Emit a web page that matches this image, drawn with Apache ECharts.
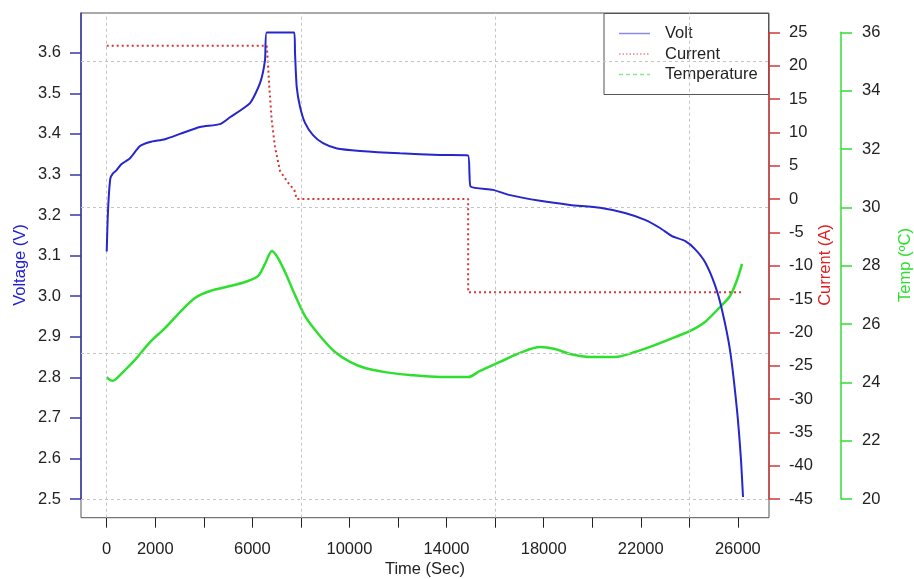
<!DOCTYPE html>
<html><head><meta charset="utf-8">
<script src="https://cdn.jsdelivr.net/npm/echarts@6/dist/echarts.min.js"></script>
<style>html,body{margin:0;padding:0;background:#fff}#c{width:914px;height:579px}</style>
</head><body><div id="c"></div>
<script>
// ---- data (time in seconds) ----
const voltTime  = [0, 40, 90, 150, 250, 400, 600, 960, 1372, 1784, 2400, 3020, 3843, 4667, 5079, 5903, 6315, 6521, 6591, 7728, 7757, 7827, 7963, 8169, 8499, 8910, 9487, 10434, 12082, 13730, 14884, 14945, 14995, 15913, 16614, 17850, 19086, 20321, 21351, 22175, 22793, 23287, 23822, 24234, 24646, 25058, 25347, 25677, 25965, 26130, 26212];
const voltValue = [3.11, 3.19, 3.25, 3.29, 3.302, 3.31, 3.325, 3.34, 3.37, 3.38, 3.387, 3.40, 3.417, 3.424, 3.441, 3.476, 3.525, 3.582, 3.65, 3.65, 3.60, 3.516, 3.467, 3.427, 3.397, 3.377, 3.364, 3.358, 3.352, 3.348, 3.347, 3.30, 3.27, 3.262, 3.249, 3.235, 3.225, 3.218, 3.205, 3.188, 3.168, 3.148, 3.136, 3.116, 3.084, 3.027, 2.966, 2.867, 2.719, 2.596, 2.505];

const currTime  = [0, 6590, 6616, 6698, 6797, 6933, 7139, 7481, 7728, 7827, 14890, 14890, 26212];
const currValue = [23, 23, 21.9, 16.8, 11.8, 7.8, 4.2, 2.4, 1.35, 0, 0, -14, -14];

const tempTime  = [0, 136, 260, 465, 754, 1166, 1784, 2400, 3020, 3637, 4255, 5079, 5697, 6232, 6521, 6809, 7057, 7346, 7758, 8169, 8787, 9405, 10023, 10641, 11465, 12494, 13730, 14884, 15379, 16203, 17029, 17853, 18471, 19089, 19913, 20942, 21766, 22590, 23414, 24032, 24646, 25264, 25677, 25965, 26171];
const tempValue = [24.18, 24.08, 24.05, 24.18, 24.42, 24.77, 25.38, 25.86, 26.41, 26.89, 27.13, 27.30, 27.44, 27.64, 28.06, 28.50, 28.26, 27.78, 26.99, 26.27, 25.59, 25.04, 24.70, 24.49, 24.35, 24.25, 24.18, 24.18, 24.39, 24.70, 25.01, 25.21, 25.14, 24.97, 24.87, 24.87, 25.04, 25.28, 25.55, 25.76, 26.07, 26.58, 26.96, 27.51, 28.06];

// ---- tick labels ----
const timeTicks  = [0, 2000, 4000, 6000, 8000, 10000, 12000, 14000, 16000, 18000, 20000, 22000, 24000, 26000];
const timeLabels = [0, 2000, 6000, 10000, 14000, 18000, 22000, 26000];
const voltTicks  = [2.5, 2.6, 2.7, 2.8, 2.9, 3.0, 3.1, 3.2, 3.3, 3.4, 3.5, 3.6];
const gridTimes  = [0, 8000, 16000, 24000];
const gridTemps  = [20, 25, 30, 35];
const legendNames = ['Volt', 'Current', 'Temperature'];

const zip = (a, b) => a.map((t, i) => [t, b[i]]);

const FONT = "'Liberation Sans', Arial, Helvetica, sans-serif";
const FS = 16.5;
const TXT = '#222';
const BLUE = '#2626cc', RED = '#d83434', GREEN = '#2fdf2f';

const L = 81, R = 914 - 769, XMIN = -1059, XMAX = 27283;

const legendColors = ['#8a8ae8', '#ec8a8a', '#8ae88a'];
const legendDash = [null, [1.5, 2], [4, 3]];
const legendGraphic = {
  type: 'group', z: 100,
  children: [
    {type: 'rect', shape: {x: 604, y: 13.5, width: 164.5, height: 81}, style: {fill: '#fff', stroke: '#555', lineWidth: 1}},
  ].concat(legendNames.flatMap((n, i) => {
    const y = 33.5 + i * 20.5;
    return [
      {type: 'line', shape: {x1: 619, y1: y, x2: 650, y2: y}, style: {stroke: legendColors[i], lineWidth: 1.5, lineDash: legendDash[i]}},
      {type: 'text', x: 665, y: y, style: {text: n, fill: TXT, font: FS + 'px ' + FONT, textAlign: 'left', textVerticalAlign: 'middle'}}
    ];
  }))
};

const chart = echarts.init(document.getElementById('c'), null, {renderer: 'canvas'});
chart.setOption({
  animation: false,
  backgroundColor: '#fff',
  textStyle: {fontFamily: FONT},
  grid: [
    {left: L, right: R, top: 13, bottom: 61.3, show: true, borderColor: '#555', borderWidth: 1, backgroundColor: 'transparent', outerBoundsMode: 'none'},
    {left: L, right: R, top: 13, bottom: 80, outerBoundsMode: 'none'},
    {left: L, right: R, top: 32.3, bottom: 80, outerBoundsMode: 'none'}
  ],
  xAxis: [
    {gridIndex: 0, type: 'value', min: XMIN, max: XMAX, position: 'bottom',
     axisLine: {show: false, onZero: false}, splitLine: {show: false},
     axisTick: {show: true, length: 10, customValues: timeTicks, lineStyle: {color: TXT, width: 1}},
     axisLabel: {show: true, customValues: timeLabels, margin: 23, fontSize: FS, color: TXT, fontFamily: FONT, formatter: v => String(v)}},
    {gridIndex: 1, type: 'value', min: XMIN, max: XMAX, show: false, axisLine: {onZero: false}},
    {gridIndex: 2, type: 'value', min: XMIN, max: XMAX, show: false, axisLine: {onZero: false}}
  ],
  yAxis: [
    {gridIndex: 0, type: 'value', min: 19.36, max: 36.64, show: false, splitLine: {show: false}, axisLine: {onZero: false}},
    {gridIndex: 1, type: 'value', min: 2.5, max: 3.698, position: 'left',
     axisLine: {show: true, onZero: false, lineStyle: {color: '#3a3aa6', width: 1.5}},
     axisTick: {show: true, length: 11, customValues: voltTicks, lineStyle: {color: '#3a3aa6', width: 1.5}},
     axisLabel: {customValues: voltTicks, margin: 20, fontSize: FS, color: TXT, fontFamily: FONT, formatter: v => v.toFixed(1)},
     splitLine: {show: false}},
    {gridIndex: 2, type: 'value', min: -45, max: 25, interval: 5, position: 'right',
     axisLine: {show: true, onZero: false, lineStyle: {color: '#cc3a3a', width: 1.5}},
     axisTick: {show: true, length: 11, lineStyle: {color: '#cc3a3a', width: 1.5}},
     axisLabel: {margin: 20, fontSize: FS, color: TXT, fontFamily: FONT},
     splitLine: {show: false}},
    {gridIndex: 2, type: 'value', min: 20, max: 36, interval: 2, position: 'right', offset: 72,
     axisLine: {show: true, onZero: false, lineStyle: {color: '#33dd33', width: 1.5}},
     axisTick: {show: true, length: 11, lineStyle: {color: '#33dd33', width: 1.5}},
     axisLabel: {margin: 21, fontSize: FS, color: TXT, fontFamily: FONT},
     splitLine: {show: false}}
  ],
  graphic: [
    {type: 'text', x: 20, y: 265, rotation: Math.PI / 2, style: {text: 'Voltage (V)', fill: '#2020d0', font: FS + 'px ' + FONT, textAlign: 'center', textVerticalAlign: 'middle'}},
    {type: 'text', x: 825, y: 265, rotation: Math.PI / 2, style: {text: 'Current (A)', fill: '#e02020', font: FS + 'px ' + FONT, textAlign: 'center', textVerticalAlign: 'middle'}},
    {type: 'text', x: 905, y: 265, rotation: Math.PI / 2, style: {text: 'Temp (ºC)', fill: '#2ee02e', font: FS + 'px ' + FONT, textAlign: 'center', textVerticalAlign: 'middle'}},
    {type: 'text', x: 425, y: 569, style: {text: 'Time (Sec)', fill: TXT, font: FS + 'px ' + FONT, textAlign: 'center', textVerticalAlign: 'middle'}},
    legendGraphic
  ],
  series: [
    {type: 'line', xAxisIndex: 0, yAxisIndex: 0, data: [], silent: true, z: 1,
     markLine: {silent: true, symbol: ['none', 'none'], label: {show: false},
       lineStyle: {color: '#c4c4c4', type: [3, 3], width: 1},
       emphasis: {disabled: true},
       data: gridTimes.map(v => ({xAxis: v})).concat(gridTemps.map(v => ({yAxis: v})))}},
    {name: 'Temperature', type: 'line', xAxisIndex: 2, yAxisIndex: 3, data: zip(tempTime, tempValue),
     showSymbol: false, symbol: 'none', smooth: 0.3, z: 3,
     lineStyle: {color: GREEN, width: 2.5}, itemStyle: {color: GREEN}},
    {name: 'Current', type: 'line', xAxisIndex: 2, yAxisIndex: 2, data: zip(currTime, currValue),
     showSymbol: false, symbol: 'none', z: 4,
     lineStyle: {color: RED, width: 2, type: [2, 3]}, itemStyle: {color: RED}},
    {name: 'Volt', type: 'line', xAxisIndex: 1, yAxisIndex: 1, data: zip(voltTime, voltValue),
     showSymbol: false, symbol: 'none', smooth: 0.2, z: 5,
     lineStyle: {color: BLUE, width: 2}, itemStyle: {color: BLUE}}
  ]
});
</script></body></html>
